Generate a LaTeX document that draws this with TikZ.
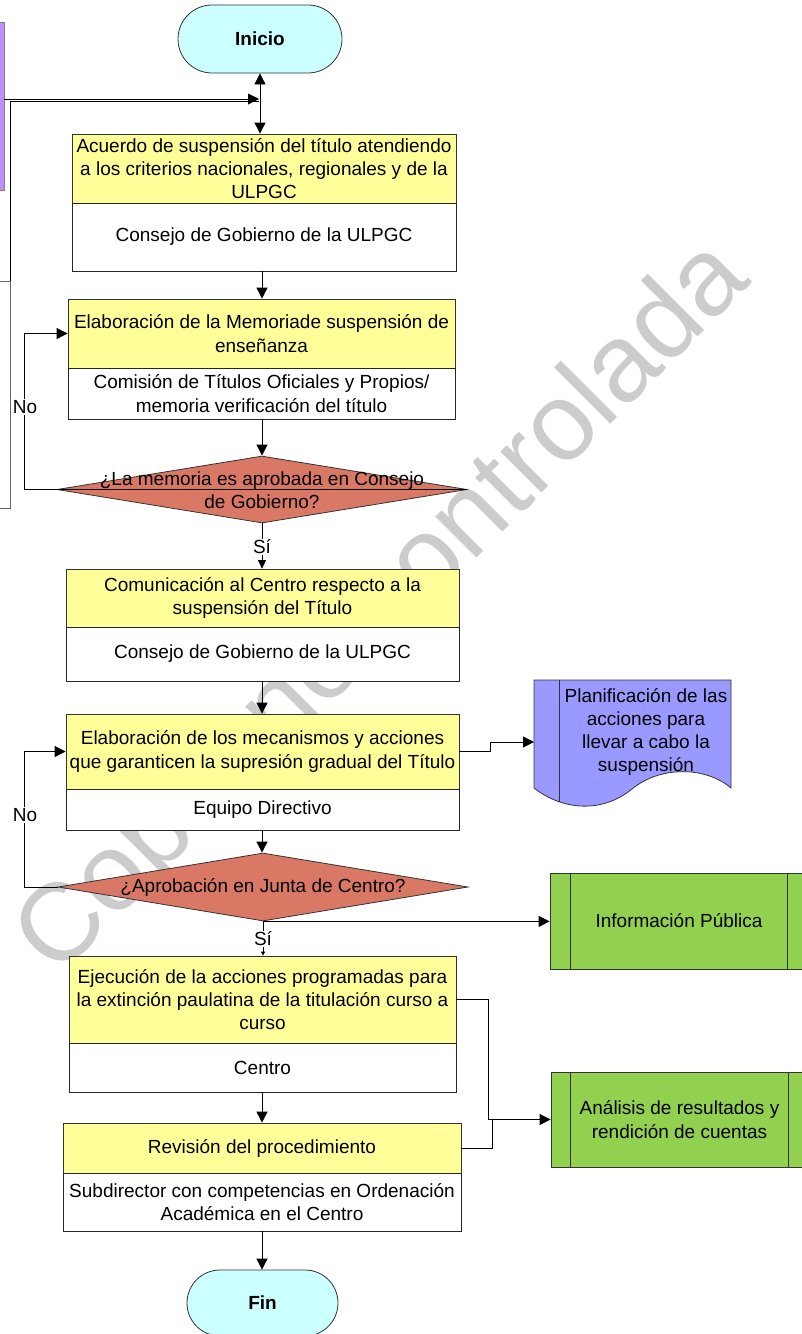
\documentclass[tikz,border=0pt]{standalone}
\usepackage{fontspec}
\setmainfont{Liberation Sans}
\usetikzlibrary{shapes.geometric,shapes.misc,arrows.meta,calc}
\definecolor{ylw}{HTML}{FFFF99}
\definecolor{cyn}{HTML}{CCFFFF}
\definecolor{rdd}{HTML}{DA7866}
\definecolor{grn}{HTML}{92D050}
\definecolor{blu}{HTML}{9999FF}
\definecolor{prp}{HTML}{C08EF6}
\definecolor{wmk}{HTML}{CCCCCC}
\begin{document}
\begin{tikzpicture}[x=1pt,y=-1pt,
  every node/.style={font=\fontsize{19}{23.3}\selectfont, align=center, inner sep=0pt},
  ybox/.style={rectangle, draw=black!80, line width=0.8pt, fill=ylw, minimum width=#1},
  wbox/.style={rectangle, draw=black!85, line width=0.8pt, fill=white, minimum width=#1},
  term/.style={rounded rectangle, draw=black!80, line width=0.8pt, fill=cyn, font=\fontsize{19}{23.3}\selectfont\bfseries},
  dia/.style={diamond, draw=black!80, line width=0.8pt, fill=rdd},
  proc/.style={rectangle, draw=black!80, line width=0.8pt, fill=grn},
  conn/.style={line width=0.8pt, draw=black},
  arr/.style={conn, -{Triangle[length=11pt,width=11pt]}},
  sarr/.style={conn, -{Triangle[length=8.5pt,width=8pt]}},
  tarr/.style={conn, -{Triangle[length=4pt,width=4pt]}},
  lbl/.style={fill=white, inner sep=1pt},
]
\clip (0,0) rectangle (802,1334);
\useasboundingbox (0,0) rectangle (802,1334);
\coordinate (ax) at (262,0);

% watermark
\node[rotate=45, text=wmk, font=\fontsize{110}{110}\selectfont] (wm) at (385,610) {Copia no controlada};

% left partial shapes
\node[draw=black!50, fill=prp, minimum width=20pt, minimum height=168pt] (purp) at (-6,106) {};
\node[draw=black!60, fill=white, minimum width=30pt, minimum height=227pt] (lbox) at (-5,394.5) {};

% terminals
\node[term, minimum width=164pt, minimum height=68pt] (ini) at (260,39) {Inicio};
\node[term, minimum width=151pt, minimum height=66pt] (fin) at (262.5,1303) {Fin};

% process boxes
\node[ybox=384pt, minimum height=69pt] (b1t) at (264,168.5) {Acuerdo de suspensión del título atendiendo\\a los criterios nacionales, regionales y de la\\ULPGC};
\node[wbox=384pt, minimum height=68pt] (b1b) at (264,237) {Consejo de Gobierno de la ULPGC};

\node[ybox=387pt, minimum height=69pt] (b2t) at (261.5,333.5) {Elaboración de la Memoriade suspensión de\\enseñanza};
\node[wbox=387pt, minimum height=51pt] (b2b) at (261.5,393.5) {Comisión de Títulos Oficiales y Propios/\\memoria verificación del título};

\node[ybox=393pt, minimum height=58pt] (b3t) at (262.5,598) {Comunicación al Centro respecto a la\\suspensión del Título};
\node[wbox=393pt, minimum height=54pt] (b3b) at (262.5,654) {Consejo de Gobierno de la ULPGC};

\node[ybox=393pt, minimum height=75pt] (b4t) at (262.5,751.5) {Elaboración de los mecanismos y acciones\\que garanticen la supresión gradual del Título};
\node[wbox=393pt, minimum height=41pt] (b4b) at (262.5,809.5) {Equipo Directivo};

\node[ybox=387pt, minimum height=87pt] (b5t) at (262.5,999.5) {Ejecución de la acciones programadas para\\la extinción paulatina de la titulación curso a\\curso};
\node[wbox=387pt, minimum height=49pt] (b5b) at (262.5,1067.5) {Centro};

\node[ybox=398pt, minimum height=50pt] (b6t) at (262,1148) {Revisión del procedimiento};
\node[wbox=398pt, minimum height=58pt] (b6b) at (262,1202) {Subdirector con competencias en Ordenación\\Académica en el Centro};

% decisions
\node[dia, minimum width=410pt, minimum height=67pt] (d1) at (262,489.5) {};
\draw[conn] (d1.west) -- (d1.east);
\node (d1txt) at (262,490.5) {¿La memoria es aprobada en Consejo\\de Gobierno?};
\node[dia, minimum width=410pt, minimum height=68pt] (d2) at (263,887) {};
\node (d2txt) at (d2) {¿Aprobación en Junta de Centro?};

% document
\path[draw=black!80, line width=0.8pt, fill=blu] (534,680) -- (731,680) -- (731,788)
  .. controls (705,766) and (660,766) .. (632,789)
  .. controls (604,812) and (565,812) .. (534,788) -- cycle;
\draw[line width=0.8pt, black!80] (559,680) -- (559,801.5);
\coordinate (planW) at (534,742);
\node (plan) at (646,732) {Planificación de las\\acciones para\\llevar a cabo la\\suspensión};

% predefined processes
\node[proc, minimum width=258pt, minimum height=96pt] (info) at (679,921) {Información Pública};
\draw[line width=0.8pt, black!80] ([xshift=21pt]info.north west) -- ([xshift=21pt]info.south west);
\draw[line width=0.8pt, black!80] ([xshift=-21pt]info.north east) -- ([xshift=-21pt]info.south east);
\node[proc, minimum width=257pt, minimum height=95pt] (anal) at (679.5,1119.5) {Análisis de resultados y\\rendición de cuentas};
\draw[line width=0.8pt, black!80] ([xshift=20pt]anal.north west) -- ([xshift=20pt]anal.south west);
\draw[line width=0.8pt, black!80] ([xshift=-20pt]anal.north east) -- ([xshift=-20pt]anal.south east);

% connectors
\coordinate (jn) at (259,99);
\coordinate (jn2) at (259,101);
\draw[conn, {Triangle[length=11pt,width=11pt]}-{Triangle[length=11pt,width=11pt]}] (ini.south) -- (ini.south |- b1t.north);
\draw[arr] (purp.east |- jn) -- (jn);
\draw[conn] (lbox.north east) |- (jn2);

\draw[arr] (b1b.south -| ax) -- (b2t.north -| ax);
\draw[arr] (b2b.south -| ax) -- (d1.north -| ax);
\draw[arr] (d1.west) -- ++(-32,0) |- (b2t.west);
\node[lbl] (no1) at (25,407) {No};
\draw[sarr] (d1.south) -- (d1.south |- b3t.north);
\node[lbl] (si1) at (262,547) {Sí};

\draw[arr] (b3b.south -| ax) -- (b4t.north -| ax);
\draw[arr] (b4b.south -| ax) -- (d2.north -| ax);
\draw[arr] (d2.west) -- ++(-33,0) |- (b4t.west);
\node[lbl] (no2) at (25,815) {No};
\draw[arr] (b4t.east) -- ++(31,0) |- (planW);
\draw[arr] (d2.south) -- (d2.south -| info.west);
\draw[tarr] (d2.south) -- (d2.south |- b5t.north);
\node[lbl] (si2) at (263,939) {Sí};

\draw[arr] (b5t.east) -- ++(32,0) |- (anal.west);
\coordinate (jn3) at (492,1119.5);
\draw[conn] (b6t.east) -| (jn3);
\draw[arr] (b5b.south -| ax) -- (b6t.north -| ax);
\draw[arr] (b6b.south -| ax) -- (fin.north -| ax);
\end{tikzpicture}
\end{document}
